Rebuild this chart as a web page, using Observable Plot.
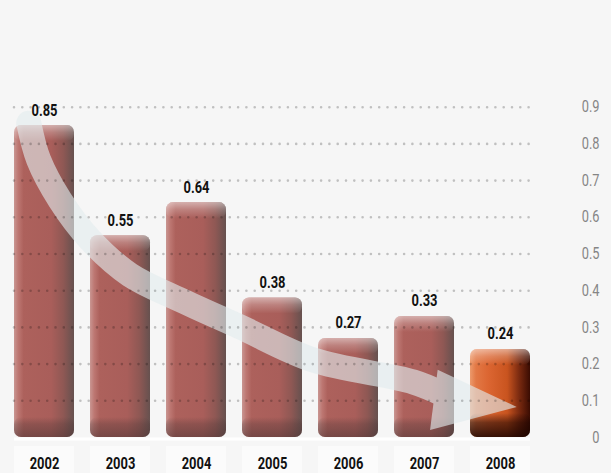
<!DOCTYPE html>
<html><head><meta charset="utf-8">
<script src="https://cdn.jsdelivr.net/npm/d3@7"></script>
<script src="https://cdn.jsdelivr.net/npm/@observablehq/plot@0.6"></script>
<style>
html,body{margin:0;padding:0;background:#f6f6f6;}
#chart svg{display:block;}
</style></head><body><div id="chart"></div>
<script>
const years = [2002, 2003, 2004, 2005, 2006, 2007, 2008];
const values = [0.85, 0.55, 0.64, 0.38, 0.27, 0.33, 0.24];
const highlightYear = 2008;
const yTicks = [0, 0.1, 0.2, 0.3, 0.4, 0.5, 0.6, 0.7, 0.8, 0.9];
const gridTicks = [0.1, 0.2, 0.3, 0.4, 0.5, 0.6, 0.7, 0.8, 0.9];
// decorative trend arrow, in (year, value) units
const arrowShaft = [[2001.8,0.855],[2001.93,0.755],[2002.21,0.646],[2002.61,0.537],[2003.13,0.442],[2003.79,0.374],[2004.58,0.300],[2005.54,0.210],[2006.86,0.150],[2007.25,0.117]];
const arrowHead = [[2007.18,0.183],[2008.22,0.082],[2007.08,0.019]];

const data = years.map((year, i) => ({year, value: values[i]}));
const FONT = 'Roboto,"Liberation Sans",sans-serif';
const isHi = d => d.year === highlightYear;
const x1 = d => d.year - 0.5, x2 = d => d.year + 0.5;
const barInset = {insetLeft: 8, insetRight: 8, rx: 7};

const chart = Plot.plot({
  width: 611, height: 473,
  marginLeft: 6, marginRight: 73, marginTop: 70, marginBottom: 36,
  style: {fontFamily: FONT, background: "#f6f6f6"},
  x: {domain: [years[0] - 0.5, years[years.length - 1] + 0.5], axis: null},
  y: {domain: [0, 1], axis: null},
  marks: [
    Plot.ruleY([0], {stroke: "#ffffff", strokeWidth: 3, dy: 1.5, insetLeft: 8, insetRight: 8}),
    Plot.rect(data, {filter: d => !isHi(d), x1, x2, y1: 0, y2: "value", ...barInset, fill: "url(#gradRed)"}),
    Plot.rect(data, {filter: isHi, x1, x2, y1: 0, y2: "value", ...barInset, fill: "url(#gradOrange)"}),
    Plot.rect(data, {x1, x2, y1: "value", y2: "value", insetBottom: -16, ...barInset, fill: "url(#gradTop)"}),
    Plot.rect(data, {filter: d => !isHi(d), x1, x2, y1: 0, y2: 0, insetTop: -20, ...barInset, fill: "url(#gradBottom)"}),
    Plot.rect(data, {filter: isHi, x1, x2, y1: 0, y2: 0, insetTop: -24, ...barInset, fill: "url(#gradBottomOrange)"}),
    Plot.ruleY(gridTicks, {insetLeft: 8, insetRight: 6, stroke: "#000", strokeOpacity: 0.22, strokeWidth: 2.6, strokeDasharray: "0,8.3", strokeLinecap: "round"}),
    Plot.axisY(yTicks, {anchor: "right", tickSize: 0, tickPadding: 61, textAnchor: "end", fill: "#858585", fontSize: 16, fontWeight: 400, label: null, tickFormat: d => String(d)}),
    Plot.text(data, {x: "year", y: "value", text: d => d.value.toFixed(2), lineAnchor: "bottom", dy: -10, fontSize: 17, fontWeight: "bold", fill: "#111"}),
    Plot.text(data, {x: "year", frameAnchor: "bottom", text: d => String(d.year), lineAnchor: "middle", dy: 26, fontSize: 17, fontWeight: "bold", fill: "#111"})
  ]
});
document.getElementById("chart").appendChild(chart);

// condensed look: compress glyphs horizontally, text stays real text
chart.querySelectorAll("text").forEach(t => {
  const w = t.getComputedTextLength();
  const bold = (t.closest("g") && t.closest("g").getAttribute("font-weight") === "bold");
  const f = bold ? 0.76 : 0.8;
  if (w > 0) { t.setAttribute("textLength", (w * f).toFixed(2)); t.setAttribute("lengthAdjust", "spacingAndGlyphs"); }
});

// gradients
const svg = d3.select(chart);
const defs = svg.insert("defs", ":first-child");
function grad(id, stops, vertical) {
  const g = defs.append("linearGradient").attr("id", id)
    .attr("x1", 0).attr("y1", 0).attr("x2", vertical ? 0 : 1).attr("y2", vertical ? 1 : 0);
  stops.forEach(([o, c, a]) => g.append("stop").attr("offset", o).attr("stop-color", c).attr("stop-opacity", a ?? 1));
}
grad("gradRed", [[0, "#c99692"], [0.07, "#bd7772"], [0.16, "#ad615c"], [0.62, "#a95e5a"], [0.82, "#8f5854"], [1, "#66514f"]]);
grad("gradOrange", [[0, "#ec9a6c"], [0.1, "#e27845"], [0.3, "#dc6632"], [0.62, "#c9541f"], [0.82, "#7a2a10"], [1, "#3a0c02"]]);
grad("gradTop", [[0, "#ffffff", 0.5], [0.45, "#ffffff", 0.22], [1, "#ffffff", 0]], true);
grad("gradBottom", [[0, "#4a3434", 0], [0.35, "#4a3434", 0.3], [1, "#4a3434", 0.55]], true);
grad("gradBottomOrange", [[0, "#1a0400", 0], [0.4, "#1a0400", 0.55], [1, "#1a0400", 0.85]], true);

// year label boxes (behind everything)
const sx = chart.scale("x"), sy = chart.scale("y");
const y0 = sy.apply(0);
const boxes = d3.create("svg:g");
data.forEach(d => {
  const cx = sx.apply(d.year);
  boxes.append("rect").attr("x", cx - 30).attr("y", y0 + 9).attr("width", 60).attr("height", 36)
    .attr("fill", "#ffffff").attr("fill-opacity", 0.5);
});
chart.insertBefore(boxes.node(), defs.node().nextSibling);

// trend arrow, drawn over the bars but under the dotted grid
const rules = chart.querySelectorAll('g[aria-label="rule"]');
const gridNode = rules[rules.length - 1];
const arrow = d3.create("svg:g").attr("opacity", 0.62);
const line = d3.line().x(p => sx.apply(p[0])).y(p => sy.apply(p[1])).curve(d3.curveCatmullRom);
arrow.append("path").attr("d", line(arrowShaft)).attr("fill", "none").attr("stroke", "#e2ecee")
  .attr("stroke-width", 25).attr("stroke-linecap", "round");
arrow.append("path").attr("d", "M" + arrowHead.map(p => [sx.apply(p[0]), sy.apply(p[1])].join(",")).join("L") + "Z")
  .attr("fill", "#e2ecee");
if (gridNode) gridNode.parentNode.insertBefore(arrow.node(), gridNode); else chart.appendChild(arrow.node());
</script></body></html>
